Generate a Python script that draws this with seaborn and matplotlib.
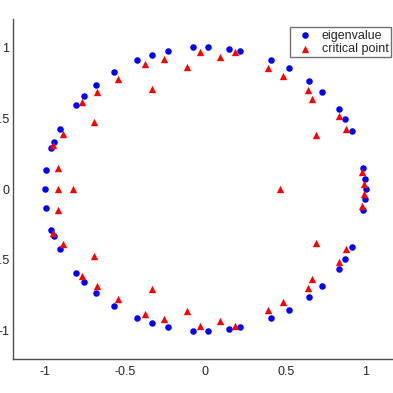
import matplotlib
matplotlib.use("Agg")
import matplotlib.pyplot as plt
import seaborn as sns
import pandas as pd

# eigenvalues (real, imag)
eig_re = [-1.000, -0.994, -0.994, -0.961, -0.961, -0.944, -0.944, -0.907, -0.907,
          -0.807, -0.807, -0.757, -0.757, -0.680, -0.680, -0.568, -0.568,
          -0.427, -0.427, -0.331, -0.331, -0.232, -0.232, -0.078, -0.078,
          0.017, 0.017, 0.145, 0.145, 0.217, 0.217, 0.410, 0.410, 0.520, 0.520,
          0.647, 0.647, 0.724, 0.724, 0.830, 0.830, 0.869, 0.869, 0.913, 0.913,
          0.984, 0.984, 0.997, 0.997, 1.000]
eig_im = [0.000, 0.134, -0.134, 0.287, -0.287, 0.330, -0.330, 0.427, -0.427,
          0.595, -0.595, 0.658, -0.658, 0.734, -0.734, 0.826, -0.826,
          0.908, -0.908, 0.946, -0.946, 0.974, -0.974, 1.000, -1.000,
          1.000, -1.000, 0.988, -0.988, 0.974, -0.974, 0.910, -0.910, 0.856, -0.856,
          0.764, -0.764, 0.687, -0.687, 0.562, -0.562, 0.492, -0.492, 0.407, -0.407,
          0.150, -0.150, 0.071, -0.071, 0.000]

# critical points (real, imag)
crit_re = [-0.917, -0.824, -0.922, -0.922, -0.949, -0.949, -0.890, -0.890,
           -0.768, -0.768, -0.695, -0.695, -0.674, -0.674, -0.547, -0.547,
           -0.377, -0.377, -0.331, -0.331, -0.260, -0.260, -0.115, -0.115,
           -0.034, -0.034, 0.088, 0.088, 0.183, 0.183, 0.391, 0.391,
           0.483, 0.483, 0.637, 0.637, 0.664, 0.664, 0.686, 0.686,
           0.830, 0.830, 0.875, 0.875, 0.973, 0.973, 0.986, 0.986, 0.466]
crit_im = [0.000, 0.000, 0.150, -0.150, 0.308, -0.308, 0.388, -0.388,
           0.614, -0.614, 0.473, -0.473, 0.685, -0.685, 0.773, -0.773,
           0.884, -0.884, 0.704, -0.704, 0.918, -0.918, 0.863, -0.863,
           0.967, -0.967, 0.932, -0.932, 0.967, -0.967, 0.854, -0.854,
           0.797, -0.797, 0.701, -0.701, 0.632, -0.632, 0.378, -0.378,
           0.517, -0.517, 0.423, -0.423, 0.117, -0.117, 0.035, -0.035, 0.000]

x_ticks = [-1, -0.5, 0, 0.5, 1]
y_ticks = [-1, -0.5, 0, 0.5, 1]
x_labels = ["-1", "-0.5", "0", "0.5", "1"]
y_labels = ["-1", "-0.5", "0", "0.5", "1"]

sns.set_style("white")
plt.rcParams['font.family'] = ['Liberation Sans', 'DejaVu Sans']

fig = plt.figure(figsize=(3.93, 3.93), dpi=100)
ax = fig.add_axes([13/393, 1 - 359/393, 385/393, 340/393])

eig_df = pd.DataFrame({"re": eig_re, "im": eig_im})
crit_df = pd.DataFrame({"re": crit_re, "im": crit_im})

sns.scatterplot(data=eig_df, x="re", y="im", ax=ax, color=(0, 0, 1), marker="o",
                s=22, linewidth=0, label="eigenvalue")
sns.scatterplot(data=crit_df, x="re", y="im", ax=ax, color=(1, 0, 0), marker="^",
                s=28, linewidth=0, label="critical point")

ax.set_xlim(-1.2, 1.2)
ax.set_ylim(-1.2, 1.2)
ax.set_xticks(x_ticks)
ax.set_xticklabels(x_labels)
ax.set_yticks(y_ticks)
ax.set_yticklabels(y_labels)
ax.set_xlabel("")
ax.set_ylabel("")

for side in ["top", "right"]:
    ax.spines[side].set_visible(False)
for side in ["left", "bottom"]:
    ax.spines[side].set_color("#4d4d4d")
    ax.spines[side].set_linewidth(1.0)
ax.tick_params(direction="in", length=4, width=0.8, color="#4d4d4d",
               labelsize=9, labelcolor="#262626", pad=5)
ax.tick_params(axis="y", pad=2.5)

leg = ax.legend(loc="upper right", bbox_to_anchor=(1.156, 1.143),
                bbox_transform=ax.transData, fontsize=9, frameon=True,
                fancybox=False, borderpad=0.2, labelspacing=0.1,
                handletextpad=0.3, handlelength=2.0, borderaxespad=0)
leg.get_frame().set_edgecolor("#4d4d4d")
leg.get_frame().set_linewidth(1.0)
for t in leg.get_texts():
    t.set_color("#262626")

fig.savefig("out.png", dpi=100)
